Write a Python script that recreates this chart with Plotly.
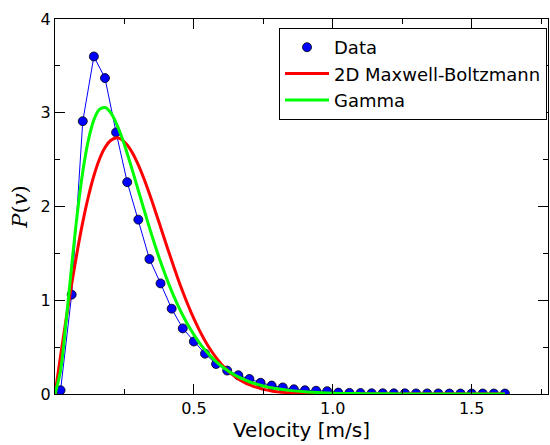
import plotly.graph_objects as go

# Measured data (velocity bins, m/s)
data_v = [0.02, 0.06, 0.10, 0.14, 0.18, 0.22, 0.26, 0.30, 0.34, 0.38,
          0.42, 0.46, 0.50, 0.54, 0.58, 0.62, 0.66, 0.70, 0.74, 0.78,
          0.82, 0.86, 0.90, 0.94, 0.98, 1.02, 1.06, 1.10, 1.14, 1.18,
          1.22, 1.26, 1.30, 1.34, 1.38, 1.42, 1.46, 1.50, 1.54, 1.58, 1.62]
data_p = [0.04, 1.06, 2.91, 3.60, 3.37, 2.79, 2.26, 1.86, 1.44, 1.18,
          0.91, 0.70, 0.56, 0.43, 0.32, 0.25, 0.20, 0.16, 0.12, 0.09,
          0.07, 0.05, 0.04, 0.035, 0.03, 0.015, 0.012, 0.01, 0.008, 0.008,
          0.007, 0.007, 0.006, 0.006, 0.006, 0.005, 0.005, 0.005, 0.005, 0.005, 0.005]

curve_v = [0.00, 0.02, 0.04, 0.06, 0.08, 0.10, 0.12, 0.14, 0.16, 0.18,
           0.20, 0.22, 0.24, 0.26, 0.28, 0.30, 0.32, 0.34, 0.36, 0.38,
           0.40, 0.42, 0.44, 0.46, 0.48, 0.50, 0.52, 0.54, 0.56, 0.58,
           0.60, 0.62, 0.64, 0.66, 0.68, 0.70, 0.72, 0.74, 0.76, 0.78,
           0.80, 0.85, 0.90, 0.95, 1.00, 1.10, 1.20, 1.30, 1.40, 1.50, 1.62]
mb_p = [0.0, 0.404, 0.799, 1.174, 1.521, 1.833, 2.104, 2.328, 2.504, 2.629,
        2.704, 2.732, 2.715, 2.657, 2.565, 2.443, 2.298, 2.135, 1.961, 1.782,
        1.601, 1.423, 1.252, 1.091, 0.941, 0.803, 0.679, 0.569, 0.472, 0.388,
        0.316, 0.255, 0.204, 0.161, 0.127, 0.099, 0.076, 0.058, 0.044, 0.033,
        0.025, 0.011, 0.005, 0.002, 0.001, 0.0, 0.0, 0.0, 0.0, 0.0, 0.0]
gamma_p = [0.0, 0.251, 0.775, 1.367, 1.916, 2.370, 2.705, 2.924, 3.035, 3.056,
           3.003, 2.893, 2.743, 2.566, 2.372, 2.171, 1.971, 1.775, 1.587, 1.411,
           1.248, 1.098, 0.962, 0.840, 0.730, 0.633, 0.546, 0.471, 0.404, 0.346,
           0.296, 0.253, 0.215, 0.183, 0.155, 0.131, 0.111, 0.094, 0.079, 0.066,
           0.056, 0.036, 0.023, 0.015, 0.009, 0.004, 0.0014, 0.0005, 0.0002, 0.0001, 0.0]

FONT = "DejaVu Sans"

fig = go.Figure()
fig.add_trace(go.Scatter(x=data_v, y=data_p, mode="lines",
                         line=dict(color="#0000ff", width=1), showlegend=False,
                         hoverinfo="skip"))
fig.add_trace(go.Scatter(x=data_v, y=data_p, mode="markers", name="Data", legendgroup="a",
                         marker=dict(color="#0000ff", size=9,
                                     line=dict(color="black", width=0.8))))
fig.add_trace(go.Scatter(x=curve_v, y=mb_p, mode="lines", name="2D Maxwell-Boltzmann",
                         legendgroup="b",
                         line=dict(color="#ff0000", width=3, shape="spline")))
fig.add_trace(go.Scatter(x=curve_v, y=gamma_p, mode="lines", name="Gamma", legendgroup="c",
                         line=dict(color="#00ff00", width=3, shape="spline")))

fig.update_layout(
    width=550, height=445,
    margin=dict(l=55, r=2, t=19, b=51, autoexpand=False),
    paper_bgcolor="white", plot_bgcolor="white",
    font=dict(family=FONT, size=16, color="black"),
    legend=dict(x=0.998, y=0.976, xanchor="right", yanchor="top",
                bordercolor="black", borderwidth=1, bgcolor="white",
                font=dict(family=FONT, size=18), tracegroupgap=0, itemwidth=44),
    xaxis=dict(range=[0, 1.775], showgrid=False, zeroline=False, automargin=False,
               showline=True, linecolor="black", linewidth=1, mirror="ticks",
               ticks="inside", ticklen=10, tickcolor="black",
               tickvals=[0, 0.5, 1.0, 1.5], ticktext=["", "0.5", "1.0", "1.5"],
               minor=dict(dtick=0.25, tick0=0, ticks="inside", ticklen=5, tickcolor="black"),
               title=dict(text="Velocity [m/s]", font=dict(family=FONT, size=20), standoff=3)),
    yaxis=dict(range=[0, 4], showgrid=False, zeroline=False, automargin=False,
               showline=True, linecolor="black", linewidth=1, mirror="ticks",
               ticks="inside", ticklen=10, tickcolor="black",
               tickvals=[0, 1, 2, 3, 4],
               minor=dict(dtick=0.5, tick0=0, ticks="inside", ticklen=5, tickcolor="black"),
               title=dict(text="<i>P</i>(<i>v</i>)",
                          font=dict(family="DejaVu Serif", size=21), standoff=7)),
)

fig.write_html("out.html", config={"displayModeBar": False},
               post_script="document.body.style.margin='0';")
